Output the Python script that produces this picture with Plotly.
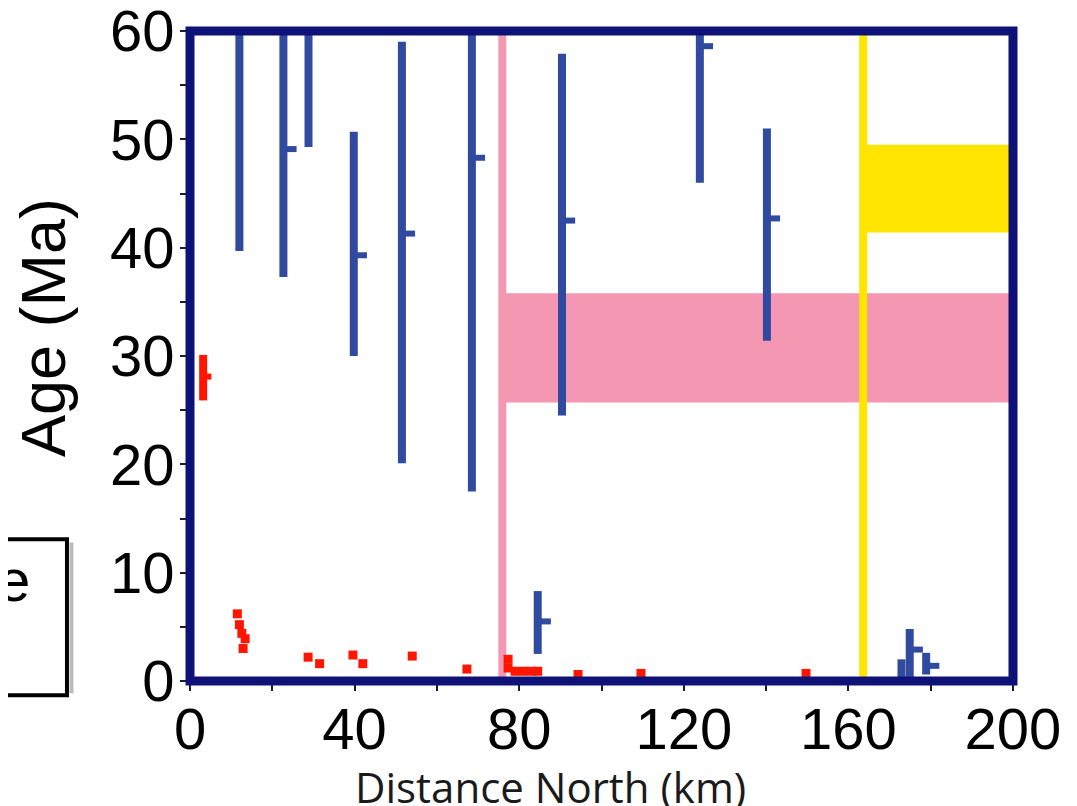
import plotly.graph_objects as go

# 年龄区间（蓝色竖条）
bar_x = [12.0, 22.7, 28.8, 39.8, 51.5, 68.5, 84.5, 90.4, 123.9, 140.2, 172.9, 174.9, 178.9]
bar_lo = [39.7, 37.3, 49.3, 30.0, 20.1, 17.5, 2.5, 24.5, 46.0, 31.4, 0.3, 0.3, 0.6]
bar_hi = [62.0, 62.0, 62.0, 50.7, 59.0, 62.0, 8.3, 57.9, 62.0, 51.0, 2.0, 4.8, 2.6]
bar_mid = [None, 49.1, None, 39.3, 41.3, 48.3, 5.5, 42.5, 58.6, 42.7, None, 2.9, 1.4]

# 红色年龄区间
red_bar_x = [3.2]
red_bar_lo = [25.9]
red_bar_hi = [30.1]
red_bar_mid = [28.1]

# 红色点
red_x = [11.5, 12.0, 12.6, 13.4, 12.9, 28.7, 31.5, 39.6, 42.0, 54.0, 67.3,
         77.3, 77.3, 79.0, 81.0, 83.0, 84.5, 94.3, 109.6, 149.7]
red_y = [6.2, 5.2, 4.4, 3.9, 3.0, 2.2, 1.6, 2.4, 1.6, 2.3, 1.1,
         2.0, 1.2, 0.9, 0.9, 0.9, 0.9, 0.6, 0.7, 0.7]

# 粉色、黄色区带
pink_x = 75.9
pink_band = [25.7, 35.8]
yellow_x = 163.6
yellow_band = [41.4, 49.5]

x_ticks = [0, 40, 80, 120, 160, 200]
y_ticks = [0, 10, 20, 30, 40, 50, 60]

BLUE = "#2F4A9F"
RED = "#FF1500"
PINK = "#F397B3"
YELLOW = "#FFE500"
NAVY = "#0E1175"
TICK_LEN = 3.2


def segs(xs, lo, hi):
    sx, sy = [], []
    for x, a, b in zip(xs, lo, hi):
        sx += [x, x, None]
        sy += [a, b, None]
    return sx, sy


def tick_segs(xs, mids, length):
    sx, sy = [], []
    for x, m in zip(xs, mids):
        if m is None:
            continue
        sx += [x, x + length, None]
        sy += [m, m, None]
    return sx, sy


fig = go.Figure()

# 区带
fig.add_shape(type="rect", xref="x", yref="y", x0=pink_x, x1=200,
              y0=pink_band[0], y1=pink_band[1], fillcolor=PINK, line_width=0, layer="below")
fig.add_shape(type="rect", xref="x", yref="y", x0=yellow_x, x1=200,
              y0=yellow_band[0], y1=yellow_band[1], fillcolor=YELLOW, line_width=0, layer="below")

# 竖线
fig.add_trace(go.Scatter(x=[pink_x, pink_x], y=[-5, 65], mode="lines",
                         line=dict(color=PINK, width=8), showlegend=False))
fig.add_trace(go.Scatter(x=[yellow_x, yellow_x], y=[-5, 65], mode="lines",
                         line=dict(color=YELLOW, width=8), showlegend=False))

# 蓝色
sx, sy = segs(bar_x, bar_lo, bar_hi)
fig.add_trace(go.Scatter(x=sx, y=sy, mode="lines", line=dict(color=BLUE, width=8),
                         showlegend=False))
tx, ty = tick_segs(bar_x, bar_mid, TICK_LEN)
fig.add_trace(go.Scatter(x=tx, y=ty, mode="lines", line=dict(color=BLUE, width=6),
                         showlegend=False))

# 红色
sx, sy = segs(red_bar_x, red_bar_lo, red_bar_hi)
fig.add_trace(go.Scatter(x=sx, y=sy, mode="lines", line=dict(color=RED, width=8),
                         showlegend=False))
tx, ty = tick_segs(red_bar_x, red_bar_mid, 2.0)
fig.add_trace(go.Scatter(x=tx, y=ty, mode="lines", line=dict(color=RED, width=6),
                         showlegend=False))
fig.add_trace(go.Scatter(x=red_x, y=red_y, mode="markers",
                         marker=dict(color=RED, size=9, symbol="square", line_width=0),
                         showlegend=False))

# 外框
fig.add_shape(type="rect", xref="paper", yref="paper", x0=0, x1=1, y0=0, y1=1,
              line=dict(color=NAVY, width=9), layer="above")

# 左侧被截断的图例框（页面有 8px 边距；x_paper=(px-190)/823, y_paper=(681-py)/650）
fig.add_shape(type="rect", xref="paper", yref="paper", x0=-0.27, x1=-0.1495,
              y0=-0.022, y1=0.218, line=dict(color="black", width=4), layer="above")
fig.add_shape(type="line", xref="paper", yref="paper", x0=-0.1440, x1=-0.1440,
              y0=-0.019, y1=0.213, line=dict(color="#bbbbbb", width=4))
fig.add_annotation(text="e", xref="paper", yref="paper", x=-0.2139, y=0.155,
                   xanchor="center", yanchor="middle", showarrow=False,
                   font=dict(family="Liberation Sans", size=60, color="black"))
fig.add_annotation(text="n", xref="paper", yref="paper", x=-0.237, y=0.03,
                   xanchor="center", yanchor="middle", showarrow=False,
                   font=dict(family="Liberation Sans", size=60, color="black"))

# 坐标轴标题
fig.add_annotation(text="Age (Ma)", xref="paper", yref="paper", x=-0.1786, y=0.543,
                   xanchor="center", yanchor="middle", textangle=-90, showarrow=False,
                   font=dict(family="Liberation Sans", size=63, color="black"))
fig.add_annotation(text="Distance North (km)", xref="paper", yref="paper", x=0.4386, y=-0.162,
                   xanchor="center", yanchor="middle", showarrow=False,
                   font=dict(family="Open Sans", size=42, color="#1a1a1a"))

fig.update_layout(
    width=1077, height=806,
    margin=dict(l=182, r=72, t=23, b=133),
    plot_bgcolor="white", paper_bgcolor="white",
    xaxis=dict(range=[0, 200], tickvals=x_ticks, showgrid=False, zeroline=False,
               showline=False, automargin=False, ticklabeloverflow="allow",
               ticks="outside", ticklen=9, tickwidth=2, tickcolor="#1a1a40",
               minor=dict(dtick=20, ticks="outside", ticklen=9, tickwidth=2, tickcolor="#1a1a40"),
               ticklabelstandoff=-12,
               tickfont=dict(family="Liberation Sans", size=58, color="black")),
    yaxis=dict(range=[0, 60], tickvals=y_ticks, showgrid=False, zeroline=False,
               showline=False, automargin=False, ticklabeloverflow="allow",
               ticks="outside", ticklen=9, tickwidth=2, tickcolor="#1a1a40",
               minor=dict(dtick=5, ticks="outside", ticklen=9, tickwidth=2, tickcolor="#1a1a40"),
               ticklabelstandoff=-6,
               tickfont=dict(family="Liberation Sans", size=58, color="black")),
)

fig.write_html("out.html")
